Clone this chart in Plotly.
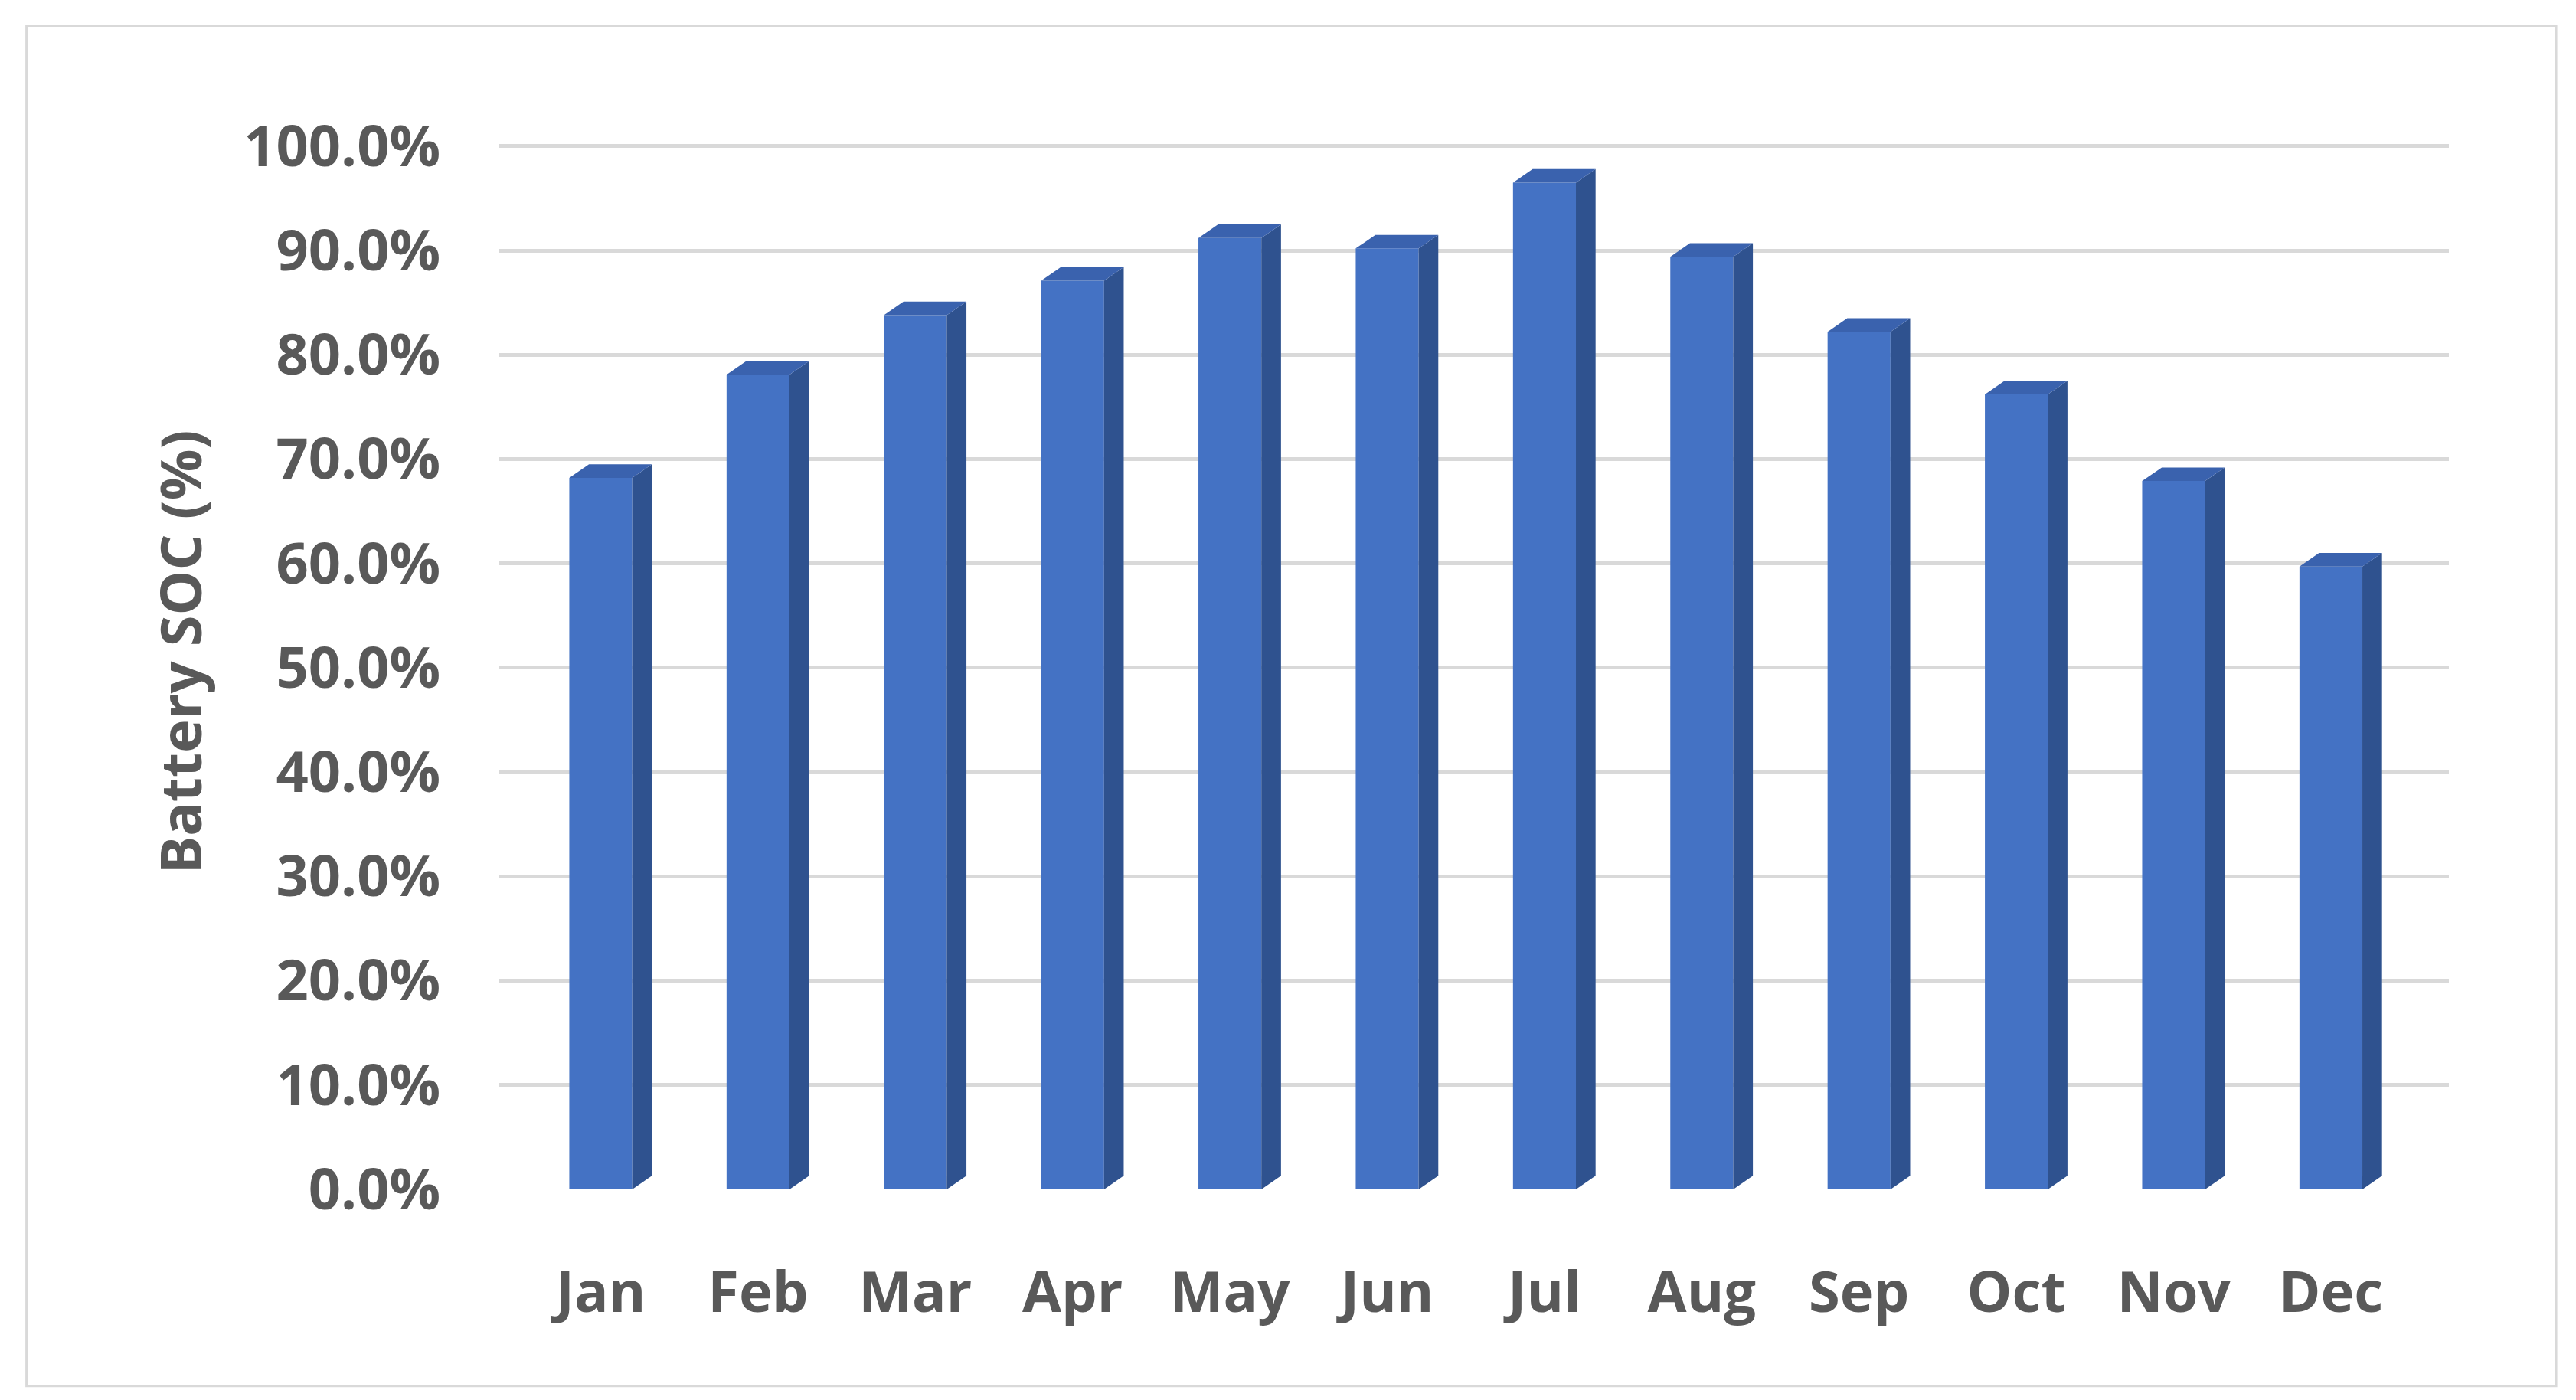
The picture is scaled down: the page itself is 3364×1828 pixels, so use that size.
import plotly.graph_objects as go

months = ["Jan","Feb","Mar","Apr","May","Jun","Jul","Aug","Sep","Oct","Nov","Dec"]
soc = [68.2, 78.1, 83.8, 87.1, 91.2, 90.2, 96.5, 89.4, 82.2, 76.2, 67.9, 59.7]
yticks = [0,10,20,30,40,50,60,70,80,90,100]

W = 0.4; DX = 0.125; DY = 1.3
front = "#4472C4"; side = "#2F528F"; top = "#3A62AE"

fig = go.Figure()
for i, v in enumerate(soc):
    r = i + W/2; l = i - W/2
    fig.add_trace(go.Scatter(x=[r, r+DX, r+DX, r, r], y=[0, DY, v+DY, v, 0],
        fill="toself", fillcolor=side, line=dict(width=0), mode="lines",
        hoverinfo="skip", showlegend=False))
    fig.add_trace(go.Scatter(x=[l, l+DX, r+DX, r, l], y=[v, v+DY, v+DY, v, v],
        fill="toself", fillcolor=top, line=dict(width=0), mode="lines",
        hoverinfo="skip", showlegend=False))
fig.add_trace(go.Bar(x=list(range(12)), y=soc, width=W, marker=dict(color=front, line=dict(width=0)),
    showlegend=False))

font = dict(family="Open Sans", size=74, color="#595959", weight="bold")
fig.update_layout(
    width=3364, height=1828, paper_bgcolor="white", plot_bgcolor="white",
    margin=dict(l=643, r=174, t=142, b=283),
    xaxis=dict(range=[-0.65, 11.75], tickvals=list(range(12)), ticktext=months,
               tickfont=font, showgrid=False, zeroline=False, showline=False,
               ticklen=70, ticks="outside", tickcolor="rgba(0,0,0,0)"),
    yaxis=dict(range=[0, 103], tickvals=yticks, ticktext=[f"{t:.1f}%" for t in yticks],
               tickfont=font, gridcolor="#D9D9D9", gridwidth=5, zeroline=False, showline=False,
               ticklen=60, ticks="outside", tickcolor="rgba(0,0,0,0)",
               title=dict(text="Battery SOC (%)", font=font, standoff=30)),
    shapes=[dict(type="rect", xref="paper", yref="paper", x0=-0.242, x1=1.055, y0=-0.183, y1=1.083,
                 line=dict(color="#D9D9D9", width=3))],
)
fig.write_html("out.html")
